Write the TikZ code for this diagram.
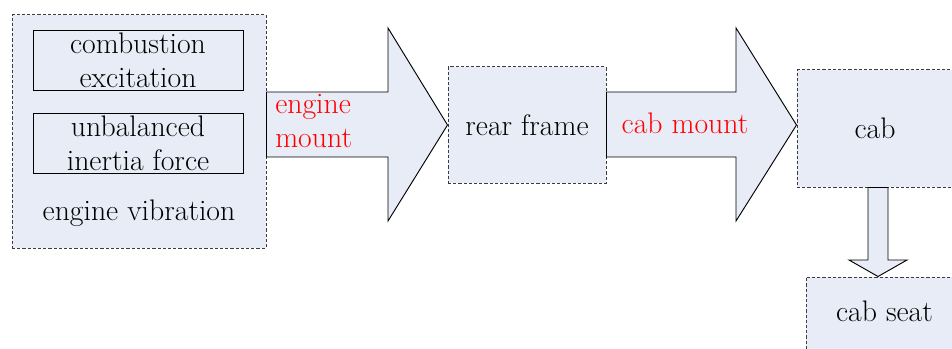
\documentclass[tikz,border=0pt]{standalone}
\usetikzlibrary{positioning}
\definecolor{boxfill}{RGB}{231,236,246}
\definecolor{edgegray}{RGB}{60,60,60}

\begin{document}
\begin{tikzpicture}[x=0.75pt,y=-0.75pt,
  every node/.style={font=\fontsize{22.3}{25.5}\selectfont},
  part/.style={shape=rectangle,draw=edgegray,fill=boxfill,line width=0.75pt,dash pattern=on 2.4pt off 1.5pt},
  source/.style={shape=rectangle,draw,fill=boxfill,line width=0.7pt,align=center,inner sep=0pt,minimum width=157.5pt,minimum height=45pt},
  bigarrow/.style={draw,fill=boxfill,line width=0.7pt,line join=miter},
  mount/.style={text=red,align=left,inner sep=0pt}]
\useasboundingbox (0,0) rectangle (952,349);
\clip (0,0) rectangle (952,349);
% blocks
\node[part,minimum width=190.5pt,minimum height=174.75pt](engine) at (139,131.5) {};
\node[source](combustion) at (138,60) {combustion\\excitation};
\node[source](inertia) at (138,143) {unbalanced\\inertia force};
\node[anchor=base](vibration) at (139,220) {engine vibration};
\node[part,minimum width=118.5pt,minimum height=87pt](rear) at (527,125) {rear frame};
\node[part,minimum width=117pt,minimum height=87.75pt](cab) at (875,128.5) {cab};
\node[part,minimum width=117.75pt,minimum height=60pt,text depth=8pt](seat) at (884.5,317) {cab seat};
% transfer paths
\draw[bigarrow] (engine.east |- 0,92) -- (388,92) -- (388,28) -- (rear.west) -- (388,221) -- (388,157) -- (engine.east |- 0,157) -- cycle;
\draw[bigarrow] (rear.east |- 0,92) -- (736,92) -- (736,28) -- (cab.west |- 0,125) -- (736,221) -- (736,157) -- (rear.east |- 0,157) -- cycle;
\draw[bigarrow] (cab.south -| 868,0) -- (868,260) -- (849,260) -- (seat.north -| 878,0) -- (907,260) -- (888,260) -- (cab.south -| 888,0) -- cycle;
\node[mount,anchor=west](em) at (275,121) {engine\\mount};
\node[mount,anchor=base](cm) at (685,133) {cab mount};
\end{tikzpicture}
\end{document}
